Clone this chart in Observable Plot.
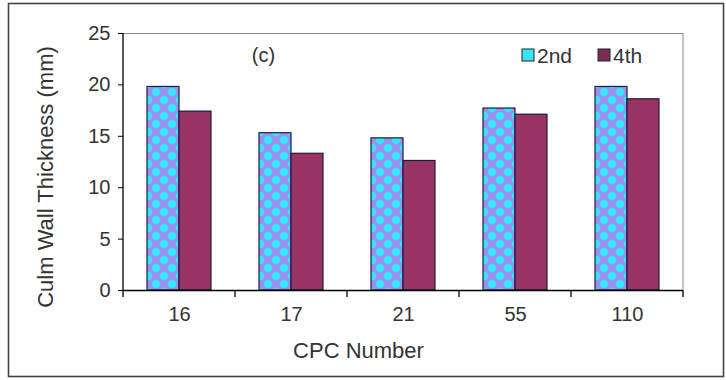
<!DOCTYPE html>
<html>
<head>
<meta charset="utf-8">
<script src="https://cdn.jsdelivr.net/npm/d3@7"></script>
<script src="https://cdn.jsdelivr.net/npm/@observablehq/plot@0.6"></script>
<style>
  html, body { margin: 0; padding: 0; background: #fff; }
  #chart { position: relative; width: 726px; height: 380px; }
  svg { font-family: "Liberation Sans", Arial, sans-serif; }
</style>
</head>
<body>
<div id="chart"></div>
<script>
const categories = ["16", "17", "21", "55", "110"];
const seriesNames = ["2nd", "4th"];
const values2nd = [19.8, 15.3, 14.8, 17.7, 19.8];
const values4th = [17.4, 13.3, 12.6, 17.1, 18.6];
const yTicks = [0, 5, 10, 15, 20, 25];
const yLabel = "Culm Wall Thickness (mm)";
const xLabel = "CPC Number";
const panelLabel = "(c)";

const rows2 = categories.map((c, i) => ({cpc: c, series: "2nd", value: values2nd[i]}));
const rows4 = categories.map((c, i) => ({cpc: c, series: "4th", value: values4th[i]}));

const W = 726, H = 380;
const mL = 123, mR = 43, mT = 33, mB = 90;
const band = (W - mL - mR) / categories.length;
const barW = band * 2 / 7;
const side = (band - 2 * barW) / 2;

const ink = "#333";
const maroon = "#993366";
const edge = "#1c1c3a";

const plot = Plot.plot({
  width: W,
  height: H,
  marginLeft: mL,
  marginRight: mR,
  marginTop: mT,
  marginBottom: mB,
  style: {background: "transparent", color: ink, fontFamily: "Liberation Sans, Arial, sans-serif"},
  x: {domain: categories, padding: 0, axis: null},
  y: {domain: [0, 25], axis: null},
  marks: [
    Plot.ruleY([25], {stroke: "#8a8a8a", strokeWidth: 1}),
    Plot.barY(rows2, {x: "cpc", y: "value", fill: "url(#dots)", stroke: edge, strokeWidth: 1.2,
      insetLeft: side, insetRight: side + barW}),
    Plot.barY(rows4, {x: "cpc", y: "value", fill: maroon, stroke: edge, strokeWidth: 1.2,
      insetLeft: side + barW, insetRight: side}),
    Plot.ruleY([0], {stroke: "#000", strokeWidth: 1.3}),
    Plot.axisY(yTicks, {tickSize: 5, tickPadding: 8, fontSize: 20, stroke: "#000", fill: ink, label: null}),
    Plot.axisX({tickSize: 0, tickPadding: 16, fontSize: 20, fill: ink, label: null}),
    Plot.text([yLabel], {frameAnchor: "left", rotate: -90, dx: -78, dy: 15, fontSize: 22, fill: ink,
      textAnchor: "middle", lineAnchor: "middle", letterSpacing: "1.1px"}),
    Plot.text([xLabel], {frameAnchor: "bottom", dx: -45, dy: 60, fontSize: 22, fill: ink,
      textAnchor: "middle", lineAnchor: "middle"}),
    Plot.text([panelLabel], {frameAnchor: "top-left", dx: 140, dy: 22, fontSize: 20, fill: ink,
      textAnchor: "middle", lineAnchor: "middle"})
  ]
});

const svg = d3.select(plot);
const defs = svg.insert("defs", ":first-child");
const pat = defs.append("pattern").attr("id", "dots").attr("patternUnits", "userSpaceOnUse")
  .attr("width", 16).attr("height", 16);
pat.append("rect").attr("width", 16).attr("height", 16).attr("fill", "#9a90f0");
[[4, 4], [12, 12], [-4, 12], [20, 4]].forEach(([cx, cy]) =>
  pat.append("circle").attr("cx", cx).attr("cy", cy).attr("r", 4.3).attr("fill", "#38e4fb"));

const xs = plot.scale("x");
const ys = plot.scale("y");
const x0 = xs.range[0], x1 = xs.range[1];
const y0 = ys.apply(0), yTop = ys.apply(25);

const g = svg.append("g");
g.append("line").attr("x1", x1).attr("x2", x1).attr("y1", yTop).attr("y2", y0)
  .attr("stroke", "#8a8a8a").attr("stroke-width", 1);
g.append("line").attr("x1", x0).attr("x2", x0).attr("y1", yTop).attr("y2", y0)
  .attr("stroke", "#000").attr("stroke-width", 1.3);
const bounds = categories.map(c => xs.apply(c)).concat([x1]);
g.selectAll("line.bt").data(bounds).join("line").attr("class", "bt")
  .attr("x1", d => d).attr("x2", d => d).attr("y1", y0).attr("y2", y0 + 7)
  .attr("stroke", "#000").attr("stroke-width", 1.3);

// legend
const leg = g.append("g").attr("font-size", 21).attr("fill", ink).attr("text-anchor", "start");
const legItems = [
  {name: seriesNames[0], fill: "#35e6fb", x: 522},
  {name: seriesNames[1], fill: "#7a2e55", x: 598}
];
legItems.forEach(it => {
  leg.append("rect").attr("x", it.x).attr("y", 49).attr("width", 12).attr("height", 12)
    .attr("fill", it.fill).attr("stroke", "#222").attr("stroke-width", 1);
  leg.append("text").attr("x", it.x + 15).attr("y", 63).attr("text-anchor", "start").text(it.name);
});

svg.append("rect").attr("x", 8.5).attr("y", 3.5).attr("width", 715).attr("height", 373)
  .attr("fill", "none").attr("stroke", "#444").attr("stroke-width", 1.6);

document.getElementById("chart").appendChild(plot);
</script>
</body>
</html>
